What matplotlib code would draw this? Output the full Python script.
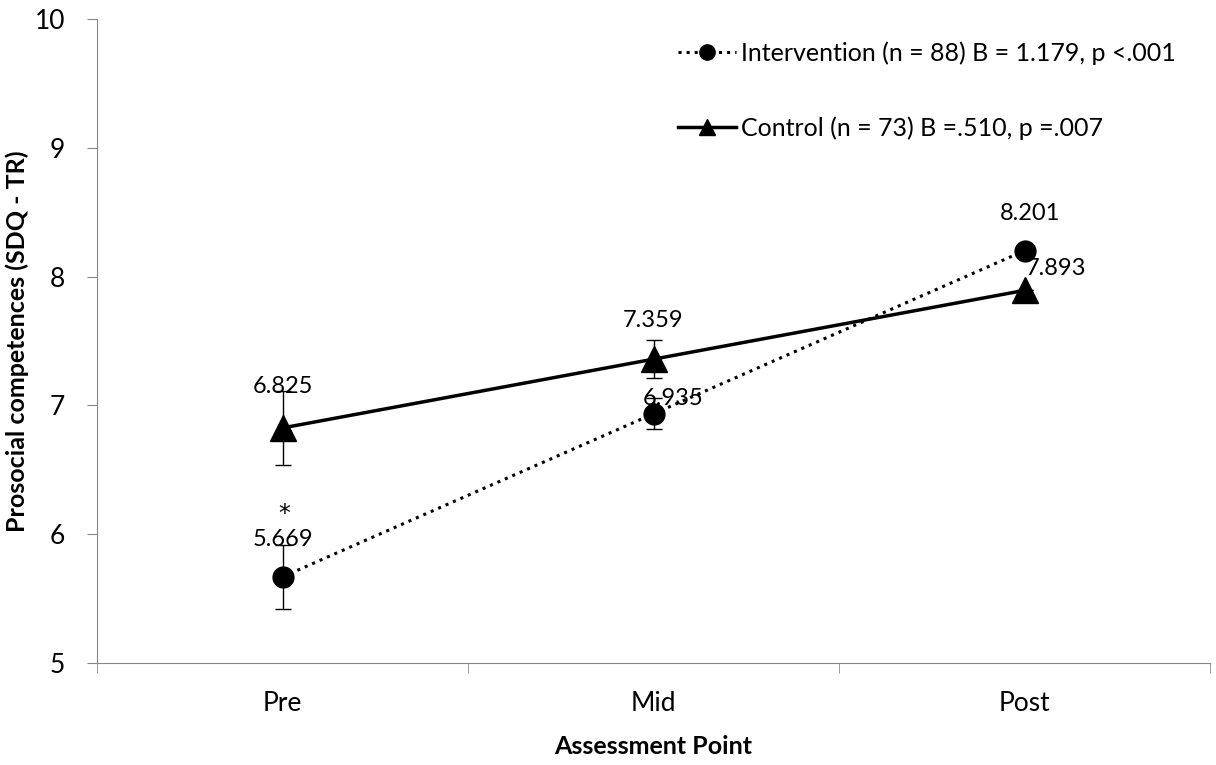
import matplotlib.pyplot as plt
from matplotlib.lines import Line2D
import numpy as np

points = ["Pre", "Mid", "Post"]
intervention = [5.669, 6.935, 8.201]
control = [6.825, 7.359, 7.893]
intervention_err = [0.25, 0.12, 0.0]
control_err = [0.29, 0.15, 0.0]
intervention_label = "Intervention (n = 88) B = 1.179, p <.001"
control_label = "Control (n = 73) B =.510, p =.007"

font = ["Lato", "DejaVu Sans"]

fig = plt.figure(figsize=(12.16, 7.65), dpi=100)
ax = fig.add_axes([97 / 1216, 1 - 663 / 765, (1210 - 97) / 1216, (663 - 19) / 765])

x = np.arange(len(points))

ax.errorbar(x, intervention, yerr=intervention_err, color="black", ls=":", lw=2.2,
            marker="o", ms=15, capsize=6, elinewidth=1, capthick=1, zorder=3)
ax.errorbar(x, control, yerr=control_err, color="black", ls="-", lw=2.5,
            marker="^", ms=19, capsize=6, elinewidth=1, capthick=1, zorder=3)

# value labels
lab_kw = dict(fontsize=17, family=font, ha="center", va="center", textcoords="offset points")
ax.annotate(f"{control[0]:.3f}", (x[0], control[0]), xytext=(0, 30), **lab_kw)
ax.annotate(f"{intervention[0]:.3f}", (x[0], intervention[0]), xytext=(0, 27), **lab_kw)
ax.annotate("*", (x[0], intervention[0]), xytext=(1, 45), fontsize=17, family="DejaVu Sans",
            ha="center", va="center", textcoords="offset points")
ax.annotate(f"{control[1]:.3f}", (x[1], control[1]), xytext=(0, 28), **lab_kw)
ax.annotate(f"{intervention[1]:.3f}", (x[1], intervention[1]), xytext=(14, 11), **lab_kw)
ax.annotate(f"{intervention[2]:.3f}", (x[2], intervention[2]), xytext=(4, 27), **lab_kw)
ax.annotate(f"{control[2]:.3f}", (x[2], control[2]), xytext=(23, 16), **lab_kw)

ax.set_xlim(-0.5, 2.5)
ax.set_ylim(5, 10)
ax.set_xticks(x)
ax.set_xticklabels(points, family=font, fontsize=19)
ax.set_xticks([-0.5, 0.5, 1.5, 2.5], minor=True)
ax.tick_params(axis="x", which="major", length=0, pad=20)
ax.tick_params(axis="x", which="minor", length=7, color="#888888", direction="out")
ax.set_yticks([5, 6, 7, 8, 9, 10])
ax.set_yticklabels([str(v) for v in [5, 6, 7, 8, 9, 10]], family=font, fontsize=19)
ax.tick_params(axis="y", length=7, color="#888888", direction="out", pad=16)
for spine in ["top", "right"]:
    ax.spines[spine].set_visible(False)
for spine in ["left", "bottom"]:
    ax.spines[spine].set_color("#888888")

ax.set_xlabel("Assessment Point", family=font, fontsize=18, fontweight="bold", labelpad=14)
ax.set_ylabel("Prosocial competences (SDQ - TR)", family=font, fontsize=18, fontweight="bold", labelpad=4)

handles = [
    Line2D([], [], color="black", ls=":", lw=2.2, marker="o", ms=11),
    Line2D([], [], color="black", ls="-", lw=2.5, marker="^", ms=12),
]
ax.legend(handles, [intervention_label, control_label], loc="upper left",
          bbox_to_anchor=(0.502, 1.0), frameon=False,
          prop={"family": font, "size": 18}, handlelength=2.3, handletextpad=0.2,
          labelspacing=2.05)

fig.savefig("out.png", dpi=100)
